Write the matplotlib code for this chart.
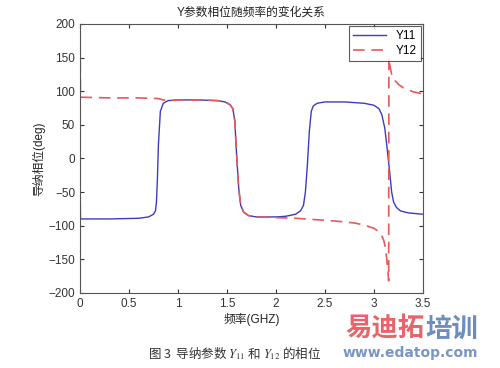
import matplotlib.pyplot as plt

plt.rcParams['font.family'] = ['Liberation Sans', 'Noto Sans CJK SC']
plt.rcParams['mathtext.fontset'] = 'stix'

#-----------------Data-------------

y11_freq = [0, 0.005, 0.3, 0.6, 0.7, 0.75, 0.77, 0.78, 0.79, 0.80, 0.82, 0.85, 0.9, 1.0,
            1.2, 1.4, 1.48, 1.53, 1.56, 1.58, 1.60, 1.62, 1.64, 1.67, 1.72, 1.8, 2.0, 2.1,
            2.2, 2.25, 2.28, 2.30, 2.32, 2.34, 2.36, 2.38, 2.42, 2.5, 2.7, 2.9, 3.0, 3.05,
            3.08, 3.11, 3.13, 3.16, 3.18, 3.2, 3.23, 3.27, 3.35, 3.5]
y11_phase = [0, -90, -90, -89, -87, -83, -78, -65, -30, 20, 70, 82, 86, 87,
             87, 86, 84, 80, 74, 55, 0, -45, -70, -80, -85, -87, -87, -86,
             -83, -78, -70, -50, -10, 40, 70, 78, 82, 84, 84, 82, 79, 74,
             65, 45, 20, -20, -50, -65, -73, -78, -81, -83]

y12_freq = [0, 0.005, 0.3, 0.6, 0.8, 0.85, 0.9, 1.0, 1.2, 1.4, 1.48, 1.53, 1.56, 1.58,
            1.60, 1.62, 1.64, 1.67, 1.72, 1.8, 2.0, 2.2, 2.4, 2.6, 2.8, 2.9, 3.0, 3.05,
            3.08, 3.1, 3.12, 3.13, 3.14, 3.15, 3.152, 3.16, 3.18, 3.2, 3.25, 3.3, 3.4, 3.5]
y12_phase = [200, 91, 90, 90, 89, 87, 86, 87, 87, 86, 84, 80, 74, 55,
             0, -45, -70, -80, -85, -87, -88, -89, -91, -93, -96, -99, -104, -109,
             -115, -122, -135, -150, -165, -182, 150, 140, 125, 118, 110, 105, 99, 96]

x_ticks = [0, 0.5, 1, 1.5, 2, 2.5, 3, 3.5]
y_ticks = [-200, -150, -100, -50, 0, 50, 100, 150, 200]

#-----------------Plot-------------

fig = plt.figure(figsize=(5, 3.68), dpi=100)
ax = fig.add_axes([0.16, 0.204, 0.686, 0.731])

ax.plot(y11_freq, y11_phase, color='#3c3cbf', lw=1.0, label='Y11')
ax.plot(y12_freq, y12_phase, color='#e65a5c', lw=1.2, ls=(0, (7, 4)), label='Y12')

ax.set_xlim(0, 3.5)
ax.set_ylim(-200, 200)
ax.set_xticks(x_ticks)
ax.set_xticklabels([f'{t:g}' for t in x_ticks])
ax.set_yticks(y_ticks)
ax.tick_params(direction='in', top=True, right=True, labelsize=8.5, colors='#333333',
               length=3, width=0.8)
for s in ax.spines.values():
    s.set_color('#555555')
    s.set_linewidth(0.8)

ax.set_title('Y参数相位随频率的变化关系', fontsize=8.5, color='#222222', pad=6)
ax.set_xlabel('频率(GHZ)', fontsize=8.5, color='#222222', labelpad=2)
ax.set_ylabel('导纳相位(deg)', fontsize=8.5, color='#222222', labelpad=2)

leg = ax.legend(loc='upper right', fontsize=8.5, frameon=True, fancybox=False,
                borderaxespad=0.2, handlelength=2.8, borderpad=0.35, labelspacing=0.25)
leg.get_frame().set_edgecolor('#333333')
leg.get_frame().set_linewidth(0.8)

fig.text(0.47, 0.04, r'图 3  导纳参数 $Y_{11}$ 和 $Y_{12}$ 的相位', ha='center', va='center',
         fontsize=9, color='#333333', family=['Noto Sans CJK SC', 'DejaVu Sans'])

# watermark
fig.text(0.69, 0.105, '易迪拓', fontsize=19, weight='bold', color='#e8646a', va='center',
         family=['Noto Sans CJK SC'])
fig.text(0.85, 0.105, '培训', fontsize=19, weight='bold', color='#6d8cc0', va='center',
         family=['Noto Sans CJK SC'])
fig.text(0.685, 0.04, 'www.edatop.com', fontsize=10, weight='bold', color='#7a96c4',
         va='center', family='DejaVu Sans')

fig.savefig('out.png', dpi=100)
